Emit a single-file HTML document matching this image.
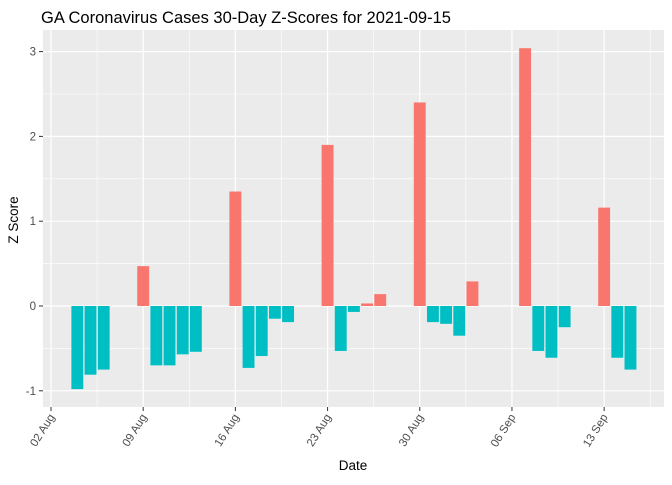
<!DOCTYPE html>
<html><head><meta charset="utf-8"><style>body{margin:0;background:#fff}svg{font-family:"Liberation Sans",sans-serif}</style></head><body>
<svg id="c" width="672" height="480">
<rect width="672" height="480" fill="#fff"/>
<text x="41" y="23" font-size="16.5" fill="#000">GA Coronavirus Cases 30-Day Z-Scores for 2021-09-15</text>
<rect x="43" y="30" width="621" height="377" fill="#ebebeb"/>
<g id="grid"></g><g id="bars"></g><g id="axes"></g>
<text transform="translate(18,220) rotate(-90)" text-anchor="middle" font-size="13.5">Z Score</text>
<text x="353" y="470" text-anchor="middle" font-size="13.5">Date</text>
</svg>
<script>
const values=[-0.98,-0.81,-0.75,0.47,-0.70,-0.70,-0.57,-0.54,1.35,-0.73,-0.59,-0.15,-0.19,1.90,-0.53,-0.07,0.03,0.14,2.40,-0.19,-0.21,-0.35,0.29,3.04,-0.53,-0.61,-0.25,1.16,-0.61,-0.75];
const dayIdx=[2,3,4,7,8,9,10,11,14,15,16,17,18,21,22,23,24,25,28,29,30,31,32,36,37,38,39,42,43,44];
const xTickDays=[0,7,14,21,28,35,42];
const xTickLabels=["02 Aug","09 Aug","16 Aug","23 Aug","30 Aug","06 Sep","13 Sep"];
const yTicks=[-1,0,1,2,3];
const NS="http://www.w3.org/2000/svg";
const X=d=>51+d*13.17, Y=v=>306-v*84.8;
function mk(t,a,p){const e=document.createElementNS(NS,t);for(const k in a)e.setAttribute(k,a[k]);document.getElementById(p).appendChild(e);return e;}
for(let v=-0.5;v<=3.5;v+=1){const y=Y(v);if(y>30&&y<407){const l=mk('line',{x1:43,x2:664,y1:y,y2:y,stroke:'#fff','stroke-width':0.6},'grid');

}}
for(let d=-3.5;d<=49;d+=7){const x=X(d);if(x>43&&x<664){const l=mk('line',{x1:x,x2:x,y1:30,y2:407,stroke:'#fff','stroke-width':0.6},'grid');

}}
yTicks.forEach(v=>{const y=Y(v);const l=mk('line',{x1:43,x2:664,y1:y,y2:y,stroke:'#fff','stroke-width':1.2},'grid');


const t=mk('line',{x1:39,x2:43,y1:y,y2:y,stroke:'#333','stroke-width':1},'axes');


const tx=mk('text',{x:36,y:y+4,'text-anchor':'end','font-size':11.5,fill:'#4d4d4d'},'axes');tx.textContent=v;

});
xTickDays.forEach((d,i)=>{const x=X(d);const l=mk('line',{x1:x,x2:x,y1:30,y2:407,stroke:'#fff','stroke-width':1.2},'grid');


const t=mk('line',{x1:x,x2:x,y1:407,y2:411,stroke:'#333','stroke-width':1},'axes');


const tx=mk('text',{transform:`translate(${x+4},${417}) rotate(-58)`,'text-anchor':'end','font-size':11.5,fill:'#4d4d4d'},'axes');tx.textContent=xTickLabels[i];

});
const w=11.9;
values.forEach((v,i)=>{const x=X(dayIdx[i]);const y0=Y(0),y1=Y(v);
const r=mk('rect',{x:x-w/2,y:Math.min(y0,y1),width:w,height:Math.abs(y1-y0),fill:v>0?'#f8766d':'#00bfc4'},'bars');

});
</script>
</body></html>
